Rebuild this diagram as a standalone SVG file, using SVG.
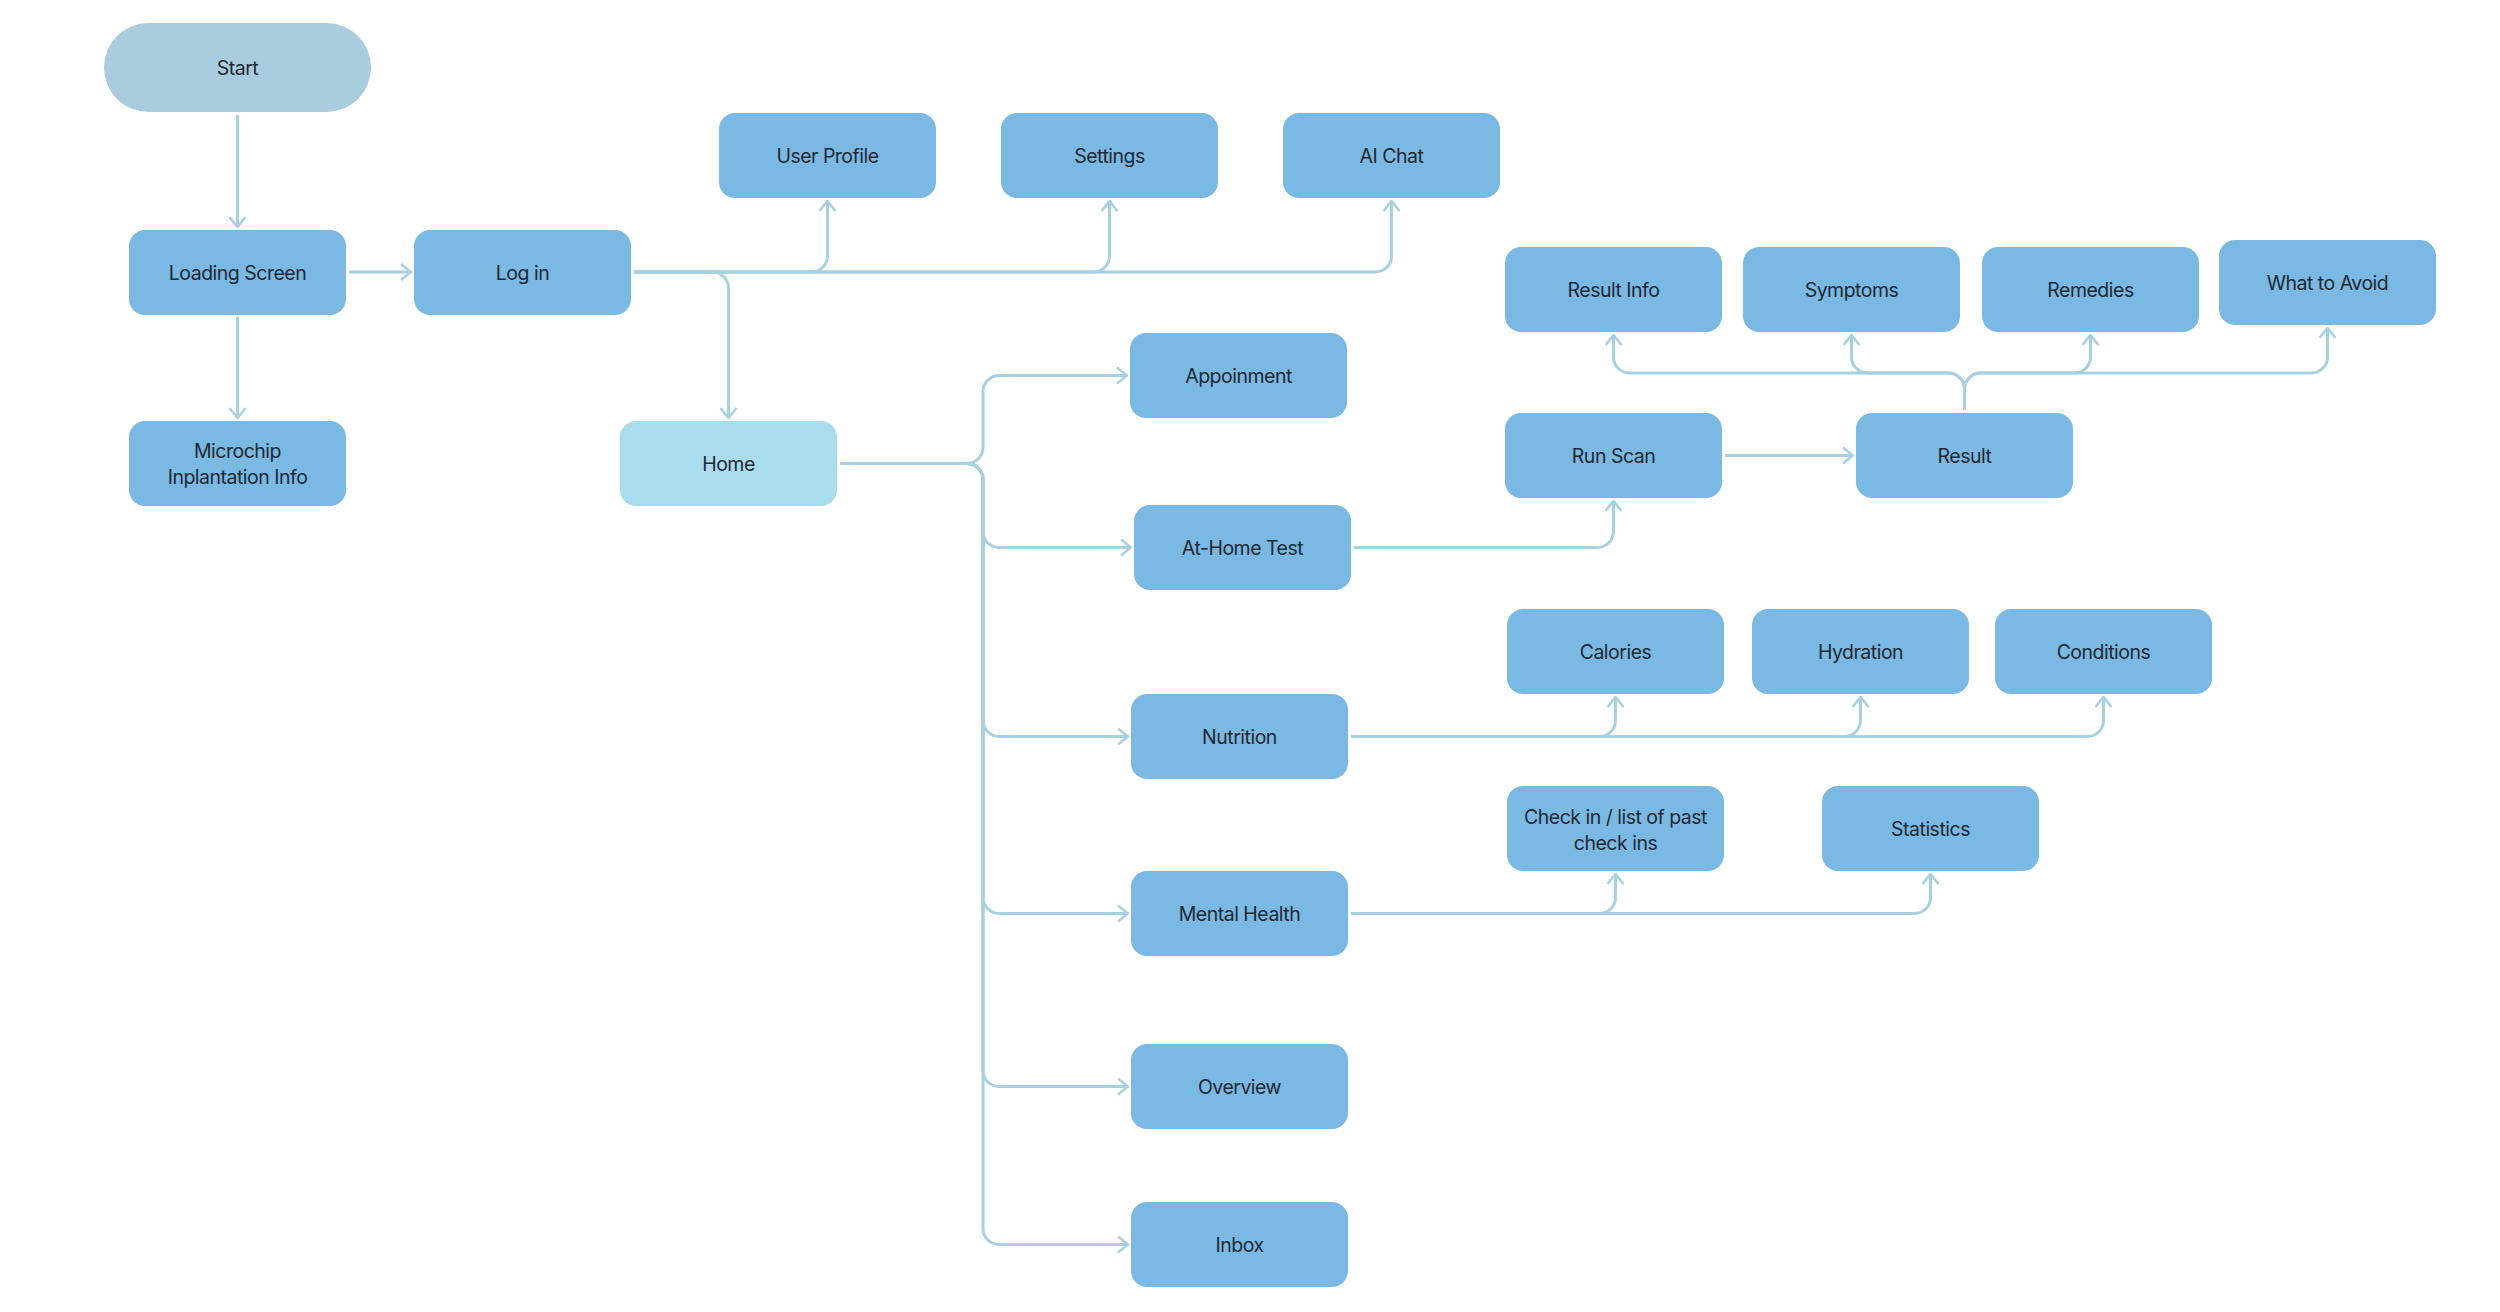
<svg xmlns="http://www.w3.org/2000/svg" width="2500" height="1312" viewBox="0 0 2500 1312">
<style>
.n{fill:#79B9E3;}
.h{fill:#A9DDED;}
.s{fill:#A9CDDF;}
.t{font-family:Inter,"Liberation Sans",sans-serif;font-size:19.5px;letter-spacing:-0.5px;fill:#1E2833;text-anchor:middle;dominant-baseline:central;}
.c{fill:none;stroke:#A7D0E1;stroke-width:3;}
.a{marker-end:url(#arr);}
</style>
<defs>
<marker id="arr" markerUnits="userSpaceOnUse" viewBox="0 0 12 18" refX="11" refY="9" markerWidth="12" markerHeight="18" orient="auto">
<path d="M1,1 L11,9 L1,17" fill="none" stroke="#A7D0E1" stroke-width="2.5"/>
</marker>
</defs>
<rect width="2500" height="1312" fill="#FFFFFF"/>
<g id="connectors">
<path class="c a" d="M237.5,115 V227"/>
<path class="c a" d="M349,272 H411"/>
<path class="c a" d="M237.5,317 V418"/>
<path class="c a" d="M634,272 H811.5 A16,16 0 0 0 827.5,256 V201"/>
<path class="c a" d="M634,272 H1093.5 A16,16 0 0 0 1109.5,256 V201"/>
<path class="c a" d="M634,272 H1375.5 A16,16 0 0 0 1391.5,256 V201"/>
<path class="c a" d="M634,272 H712.5 A16,16 0 0 1 728.5,288 V418"/>
<path class="c a" d="M840,463.5 H967 A16,16 0 0 0 983,447.5 V391.5 A16,16 0 0 1 999,375.5 H1127"/>
<path class="c a" d="M840,463.5 H967 A16,16 0 0 1 983,479.5 V531.5 A16,16 0 0 0 999,547.5 H1131"/>
<path class="c a" d="M840,463.5 H967 A16,16 0 0 1 983,479.5 V720.5 A16,16 0 0 0 999,736.5 H1128"/>
<path class="c a" d="M840,463.5 H967 A16,16 0 0 1 983,479.5 V897.5 A16,16 0 0 0 999,913.5 H1128"/>
<path class="c a" d="M840,463.5 H967 A16,16 0 0 1 983,479.5 V1070.5 A16,16 0 0 0 999,1086.5 H1128"/>
<path class="c a" d="M840,463.5 H967 A16,16 0 0 1 983,479.5 V1228.5 A16,16 0 0 0 999,1244.5 H1128"/>
<path class="c a" d="M1354,547.5 H1597.5 A16,16 0 0 0 1613.5,531.5 V501"/>
<path class="c a" d="M1725,455.5 H1853"/>
<path class="c a" d="M1964.5,410 V389 A16,16 0 0 0 1948.5,373 H1629.5 A16,16 0 0 1 1613.5,357 V335"/>
<path class="c a" d="M1964.5,410 V389 A16,16 0 0 0 1948.5,373 H1867.5 A16,16 0 0 1 1851.5,357 V335"/>
<path class="c a" d="M1964.5,410 V389 A16,16 0 0 1 1980.5,373 H2074.5 A16,16 0 0 0 2090.5,357 V335"/>
<path class="c a" d="M1964.5,410 V389 A16,16 0 0 1 1980.5,373 H2311.5 A16,16 0 0 0 2327.5,357 V328"/>
<path class="c a" d="M1351,736.5 H1599.5 A16,16 0 0 0 1615.5,720.5 V697"/>
<path class="c a" d="M1351,736.5 H1844.5 A16,16 0 0 0 1860.5,720.5 V697"/>
<path class="c a" d="M1351,736.5 H2087.5 A16,16 0 0 0 2103.5,720.5 V697"/>
<path class="c a" d="M1351,913.5 H1599.5 A16,16 0 0 0 1615.5,897.5 V874"/>
<path class="c a" d="M1351,913.5 H1914.5 A16,16 0 0 0 1930.5,897.5 V874"/>
</g>
<g id="start"><rect class="s" x="104" y="23" width="267" height="89" rx="44.5"/><text class="t" x="237.5" y="67.5">Start</text></g>
<g id="loading"><rect class="n" x="129" y="230" width="217" height="85" rx="16"/><text class="t" x="237.5" y="272.5">Loading Screen</text></g>
<g id="login"><rect class="n" x="414" y="230" width="217" height="85" rx="16"/><text class="t" x="522.5" y="272.5">Log in</text></g>
<g id="microchip"><rect class="n" x="129" y="421" width="217" height="85" rx="16"/><text class="t" x="237.5" y="451">Microchip</text><text class="t" x="237.5" y="477">Inplantation Info</text></g>
<g id="home"><rect class="h" x="620" y="421" width="217" height="85" rx="16"/><text class="t" x="728.5" y="463.5">Home</text></g>
<g id="userprofile"><rect class="n" x="719" y="113" width="217" height="85" rx="16"/><text class="t" x="827.5" y="155.5">User Profile</text></g>
<g id="settings"><rect class="n" x="1001" y="113" width="217" height="85" rx="16"/><text class="t" x="1109.5" y="155.5">Settings</text></g>
<g id="aichat"><rect class="n" x="1283" y="113" width="217" height="85" rx="16"/><text class="t" x="1391.5" y="155.5">AI Chat</text></g>
<g id="appoinment"><rect class="n" x="1130" y="333" width="217" height="85" rx="16"/><text class="t" x="1238.5" y="375.5">Appoinment</text></g>
<g id="athometest"><rect class="n" x="1134" y="505" width="217" height="85" rx="16"/><text class="t" x="1242.5" y="547.5">At-Home Test</text></g>
<g id="nutrition"><rect class="n" x="1131" y="694" width="217" height="85" rx="16"/><text class="t" x="1239.5" y="736.5">Nutrition</text></g>
<g id="mentalhealth"><rect class="n" x="1131" y="871" width="217" height="85" rx="16"/><text class="t" x="1239.5" y="913.5">Mental Health</text></g>
<g id="overview"><rect class="n" x="1131" y="1044" width="217" height="85" rx="16"/><text class="t" x="1239.5" y="1086.5">Overview</text></g>
<g id="inbox"><rect class="n" x="1131" y="1202" width="217" height="85" rx="16"/><text class="t" x="1239.5" y="1244.5">Inbox</text></g>
<g id="resultinfo"><rect class="n" x="1505" y="247" width="217" height="85" rx="16"/><text class="t" x="1613.5" y="289.5">Result Info</text></g>
<g id="symptoms"><rect class="n" x="1743" y="247" width="217" height="85" rx="16"/><text class="t" x="1851.5" y="289.5">Symptoms</text></g>
<g id="remedies"><rect class="n" x="1982" y="247" width="217" height="85" rx="16"/><text class="t" x="2090.5" y="289.5">Remedies</text></g>
<g id="whattoavoid"><rect class="n" x="2219" y="240" width="217" height="85" rx="16"/><text class="t" x="2327.5" y="282.5">What to Avoid</text></g>
<g id="runscan"><rect class="n" x="1505" y="413" width="217" height="85" rx="16"/><text class="t" x="1613.5" y="455.5">Run Scan</text></g>
<g id="result"><rect class="n" x="1856" y="413" width="217" height="85" rx="16"/><text class="t" x="1964.5" y="455.5">Result</text></g>
<g id="calories"><rect class="n" x="1507" y="609" width="217" height="85" rx="16"/><text class="t" x="1615.5" y="651.5">Calories</text></g>
<g id="hydration"><rect class="n" x="1752" y="609" width="217" height="85" rx="16"/><text class="t" x="1860.5" y="651.5">Hydration</text></g>
<g id="conditions"><rect class="n" x="1995" y="609" width="217" height="85" rx="16"/><text class="t" x="2103.5" y="651.5">Conditions</text></g>
<g id="checkin"><rect class="n" x="1507" y="786" width="217" height="85" rx="16"/><text class="t" x="1615.5" y="816.5">Check in / list of past</text><text class="t" x="1615.5" y="842.5">check ins</text></g>
<g id="statistics"><rect class="n" x="1822" y="786" width="217" height="85" rx="16"/><text class="t" x="1930.5" y="828.5">Statistics</text></g>
</svg>
